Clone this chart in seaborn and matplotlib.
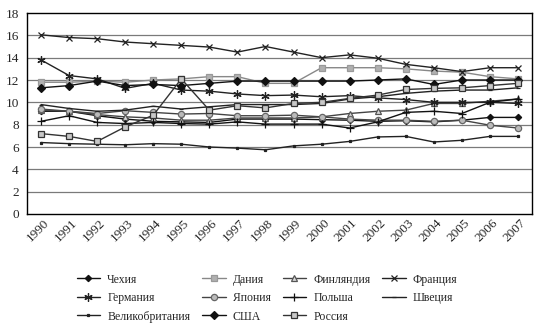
import numpy as np
import pandas as pd
import matplotlib
matplotlib.use("Agg")
import matplotlib.pyplot as plt
import seaborn as sns
from matplotlib.transforms import ScaledTranslation

years = list(range(1990, 2008))

czech   = [9.2, 9.2, 8.8, 8.5, 8.3, 8.25, 8.2, 8.5, 8.5, 8.5, 8.45, 8.4, 8.3, 8.35, 8.25, 8.4, 8.65, 8.65]
denmark = [11.8, 11.8, 11.9, 11.8, 12.0, 12.1, 12.3, 12.3, 11.7, 11.7, 13.1, 13.1, 13.1, 13.0, 12.8, 12.7, 12.3, 12.1]
finland = [9.3, 9.2, 8.9, 8.7, 8.6, 8.4, 8.4, 8.6, 8.6, 8.6, 8.7, 9.0, 9.2, 9.3, 9.9, 9.9, 10.1, 10.3]
france  = [16.05, 15.8, 15.7, 15.4, 15.25, 15.1, 14.95, 14.5, 15.0, 14.5, 14.0, 14.25, 13.95, 13.4, 13.1, 12.75, 13.1, 13.1]
germany = [13.8, 12.4, 12.1, 11.25, 11.7, 11.1, 11.0, 10.75, 10.6, 10.65, 10.5, 10.6, 10.4, 10.25, 10.0, 10.0, 10.0, 9.9]
japan   = [9.4, 9.2, 9.0, 9.25, 9.1, 8.95, 9.0, 8.8, 8.8, 8.85, 8.7, 8.5, 8.4, 8.4, 8.3, 8.4, 7.95, 7.7]
poland  = [8.3, 8.8, 8.2, 8.1, 8.2, 8.1, 8.05, 8.25, 8.05, 8.05, 8.05, 7.7, 8.25, 9.1, 9.2, 9.0, 10.0, 10.3]
sweden  = [9.8, 9.45, 9.2, 9.3, 9.65, 9.4, 9.6, 9.8, 9.8, 9.8, 9.9, 10.3, 10.5, 10.8, 11.0, 11.1, 11.1, 11.3]
uk      = [6.4, 6.3, 6.25, 6.2, 6.3, 6.25, 6.0, 5.9, 5.75, 6.1, 6.25, 6.5, 6.9, 6.95, 6.45, 6.6, 6.95, 6.95]
usa     = [11.3, 11.5, 11.9, 11.5, 11.6, 11.5, 11.7, 11.9, 11.9, 11.9, 11.9, 11.9, 12.0, 12.1, 11.6, 12.0, 12.0, 12.0]
russia  = [7.2, 6.95, 6.5, 7.8, 8.85, 12.1, 9.3, 9.7, 9.5, 9.9, 10.0, 10.35, 10.65, 11.15, 11.25, 11.3, 11.5, 11.7]

names = ["Чехия", "Дания", "Финляндия", "Франция", "Германия", "Япония",
         "Польша", "Швеция", "Великобритания", "США", "Россия"]
series = [czech, denmark, finland, france, germany, japan, poland, sweden, uk, usa, russia]

styles = {
    "Чехия":          dict(color="#111111", marker="D", ms=3.2, mfc="#111111", mec="#111111"),
    "Дания":          dict(color="#888888", marker="s", ms=4.5, mfc="#b0b0b0", mec="#999999"),
    "Финляндия":      dict(color="#444444", marker="^", ms=4.5, mfc="#d8d8d8", mec="#555555"),
    "Франция":        dict(color="#222222", marker="x", ms=5, mfc="#222222", mec="#222222"),
    "Германия":       dict(color="#222222", marker=(6, 2, 0), ms=6, mfc="#222222", mec="#222222"),
    "Япония":         dict(color="#444444", marker="o", ms=4.5, mfc="#bbbbbb", mec="#666666"),
    "Польша":         dict(color="#111111", marker="+", ms=6, mfc="#111111", mec="#111111"),
    "Швеция":         dict(color="#222222", marker="_", ms=3.5, mfc="#222222", mec="#222222"),
    "Великобритания": dict(color="#222222", marker="s", ms=1.8, mfc="#222222", mec="#222222"),
    "США":            dict(color="#111111", marker="D", ms=3.8, mfc="#111111", mec="#111111"),
    "Россия":         dict(color="#333333", marker="s", ms=5, mfc="#c8c8c8", mec="#333333"),
}

sns.set_theme(style="white")
plt.rcParams["font.family"] = ["Liberation Serif", "DejaVu Serif"]

fig = plt.figure(figsize=(5.5, 3.29), dpi=100)
ax = fig.add_axes([27/550, 1-214/329, (532-27)/550, (214-13)/329])

xs = np.arange(len(years))
handles = {}
for name, vals in zip(names, series):
    st = styles[name]
    sns.lineplot(x=xs, y=vals, ax=ax, color=st["color"], marker=st["marker"],
                 markersize=st["ms"], markerfacecolor=st["mfc"], markeredgecolor=st["mec"],
                 markeredgewidth=0.9, linewidth=1.0, label=name, legend=False)
    handles[name] = ax.get_lines()[-1]

ax.set_xlim(-0.5, len(years) - 0.5)
ax.set_ylim(0, 18)
ax.set_yticks(np.arange(0, 19, 2))
ax.set_yticklabels([str(v) for v in range(0, 19, 2)], fontsize=9.5)
ax.set_xticks(xs)
ax.set_xticklabels([str(y) for y in years], fontsize=9.5)
ax.set_xticks(np.arange(-0.5, len(years), 1), minor=True)
ax.tick_params(axis="x", which="major", length=0, pad=5)
ax.tick_params(axis="x", which="minor", length=4, width=0.8, color="black", direction="out")
ax.tick_params(axis="y", which="major", length=4, width=0.8, color="black", direction="out", pad=2)
offset = ScaledTranslation(6/100, 0, fig.dpi_scale_trans)
for tl in ax.get_xticklabels():
    tl.set_rotation(45)
    tl.set_rotation_mode("anchor")
    tl.set_ha("right")
    tl.set_va("center")
    tl.set_transform(tl.get_transform() + offset)

ax.grid(False)
for yv in range(2, 18, 2):
    ax.axhline(yv, color="#7a7a7a", lw=0.9, zorder=0)
ax.set_xlabel("")
ax.set_ylabel("")
for sp in ax.spines.values():
    sp.set_visible(True)
    sp.set_color("black")
    sp.set_linewidth(1.0)

order = ["Чехия", "Германия", "Великобритания",
         "Дания", "Япония", "США",
         "Финляндия", "Польша", "Россия",
         "Франция", "Швеция"]
fig.legend([handles[n] for n in order], order, ncol=4, loc="upper left",
           bbox_to_anchor=(66/550, 1-263/329), frameon=False, fontsize=8.5,
           handlelength=2.0, handletextpad=0.6, columnspacing=1.0, labelspacing=0.55)

fig.savefig("out.png", dpi=100)
